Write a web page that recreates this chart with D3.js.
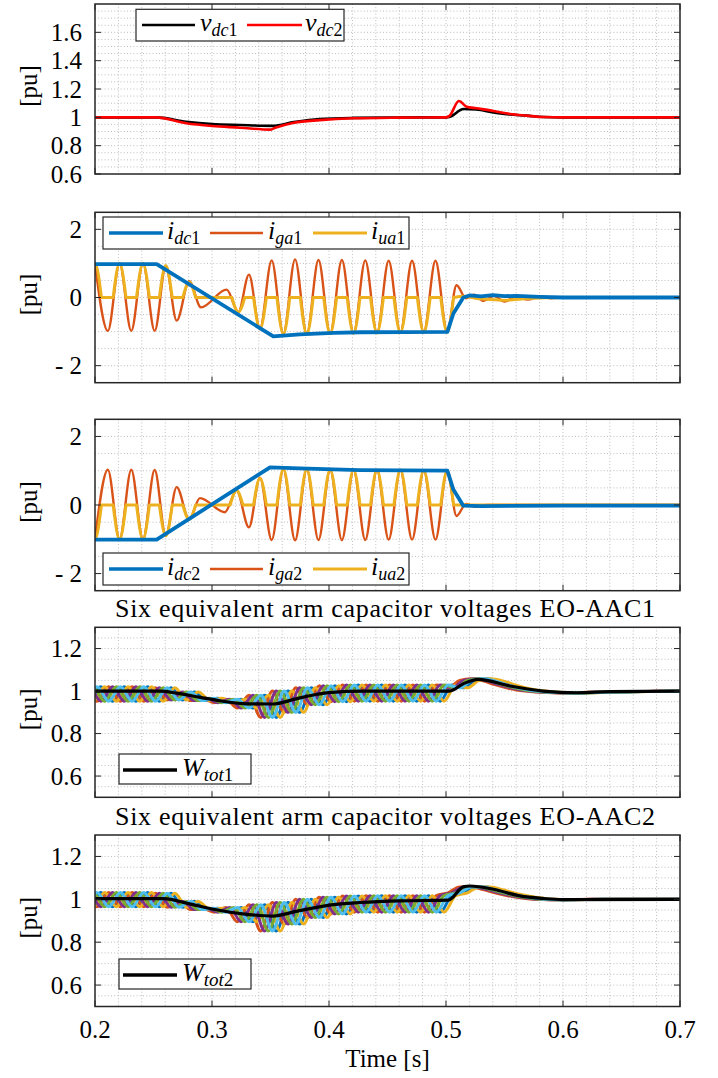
<!DOCTYPE html>
<html>
<head>
<meta charset="utf-8">
<script src="https://cdn.jsdelivr.net/npm/d3@7"></script>
<style>
  body { margin: 0; background: #fff; }
  svg { display: block; font-family: "Liberation Serif", "Times New Roman", serif; }
</style>
</head>
<body>
<svg id="chart" width="718" height="1078"></svg>
<script>
// ---- axis ticks / labels ----
const timeTicks = [0.2, 0.3, 0.4, 0.5, 0.6, 0.7];
const timeLabels = ["0.2", "0.3", "0.4", "0.5", "0.6", "0.7"];
const vTicks = [0.6, 0.8, 1, 1.2, 1.4, 1.6];
const vLabels = ["0.6", "0.8", "1", "1.2", "1.4", "1.6"];
const iTicks = [-2, 0, 2];
const iLabels = ["- 2", "0", "2"];
const wTicks = [0.6, 0.8, 1, 1.2];
const wLabels = ["0.6", "0.8", "1", "1.2"];

// ---- panel 1: dc voltages [t, pu] ----
const vdc1 = [[0.2,1.0],[0.252,1.0],[0.278,0.969],[0.3,0.953],[0.324,0.946],[0.352,0.94],[0.37,0.966],
  [0.392,0.988],[0.421,0.996],[0.46,0.999],[0.5,1.0],[0.5035,1.005],[0.515,1.059],[0.526,1.055],
  [0.5405,1.035],[0.5547,1.02],[0.569,1.012],[0.583,1.002],[0.6,1.0],[0.7,1.0]];
const vdc2 = [[0.2,1.0],[0.252,1.0],[0.278,0.958],[0.3,0.939],[0.324,0.927],[0.3496,0.913],[0.354,0.926],
  [0.37,0.962],[0.392,0.98],[0.421,0.993],[0.46,0.998],[0.5,1.0],[0.503,1.01],[0.511,1.115],[0.5176,1.075],
  [0.526,1.064],[0.5405,1.045],[0.5547,1.024],[0.569,1.012],[0.583,1.002],[0.6,1.0],[0.7,1.0]];

// ---- panel 2: converter 1 currents ----
const idc1 = [[0.2,0.98],[0.2527,0.98],[0.3524,-1.14],[0.375,-1.08],[0.404,-1.04],[0.4265,-1.02],
  [0.5012,-1.01],[0.5063,-0.47],[0.5148,0.0],[0.52,0.06],[0.53,0.03],[0.54,0.07],[0.55,0.04],
  [0.56,0.05],[0.58,0.02],[0.6,0.0],[0.7,0.0]];
const iga1 = [[0.2,1.0],[0.211,-0.98],[0.221,1.0],[0.231,-0.98],[0.241,1.0],[0.251,-0.98],[0.2605,0.92],
  [0.2698,-0.68],[0.2805,0.48],[0.2906,-0.29],[0.3125,0.23],[0.3225,-0.43],[0.3316,0.67],[0.341,-0.92],
  [0.351,1.09],[0.361,-1.07],[0.371,1.12],[0.381,-1.07],[0.391,1.1],[0.401,-1.06],[0.411,1.1],[0.421,-1.05],
  [0.431,1.09],[0.441,-1.04],[0.451,1.08],[0.461,-1.03],[0.471,1.08],[0.481,-1.02],[0.491,1.08],[0.501,-1.01],
  [0.509,0.36],[0.517,-0.02],[0.524,0.08],[0.532,-0.1],[0.541,0.05],[0.55,-0.12],[0.56,0.03],[0.57,-0.06],
  [0.58,0.03],[0.59,-0.02],[0.6,0],[0.7,0]];
// arm current: conducting half-cycle lobes [peak time, peak value], then the settled tail
const iua1Lobes = [[0.2,1.0],[0.221,1.0],[0.241,1.0],[0.2605,0.94],[0.2805,0.45],[0.3225,-0.43],[0.341,-0.92],
  [0.361,-1.07],[0.381,-1.07],[0.401,-1.06],[0.421,-1.05],[0.441,-1.04],[0.461,-1.03],[0.481,-1.02],[0.501,-1.01]];
const iua1Tail = [[0.5065,0],[0.515,0.04],[0.525,-0.02],[0.535,-0.05],[0.55,-0.08],[0.57,-0.03],[0.6,0],[0.7,0]];

// ---- panel 3: converter 2 currents ----
const idc2 = [[0.2,-1.01],[0.2527,-1.01],[0.3496,1.1],[0.375,1.07],[0.404,1.04],[0.4265,1.02],
  [0.5012,1.0],[0.5063,0.45],[0.5148,-0.02],[0.53,-0.03],[0.6,-0.02],[0.7,-0.02]];
const iga2 = [[0.2,-1.0],[0.211,1.03],[0.221,-1.0],[0.231,1.03],[0.241,-1.0],[0.251,1.02],[0.2605,-0.9],
  [0.2698,0.52],[0.2805,-0.42],[0.2897,0.2],[0.311,-0.21],[0.321,0.42],[0.3316,-0.65],[0.341,0.8],
  [0.351,-1.02],[0.361,1.04],[0.371,-1.03],[0.381,1.04],[0.391,-1.02],[0.401,1.03],[0.411,-1.02],[0.421,1.03],
  [0.431,-1.02],[0.441,1.02],[0.451,-1.01],[0.461,1.02],[0.471,-1.01],[0.481,1.01],[0.491,-1.01],[0.501,1.0],
  [0.509,-0.32],[0.517,0.03],[0.525,-0.05],[0.535,0.0],[0.6,0],[0.7,0]];
const iua2Lobes = [[0.2,-1.0],[0.221,-1.0],[0.241,-1.0],[0.2605,-0.9],[0.2805,-0.42],[0.321,0.42],[0.341,0.78],
  [0.361,1.04],[0.381,1.04],[0.401,1.03],[0.421,1.03],[0.441,1.02],[0.461,1.02],[0.481,1.01],[0.501,1.0]];
const iua2Tail = [[0.5065,0],[0.7,0]];
const lobeHalf = 0.0055; // half width of a conduction lobe [s]

// ---- panels 4/5: arm capacitor voltages, band extremes every 10 ms ----
const capT = [0.18,0.19,0.20,0.21,0.22,0.23,0.24,0.25,0.26,0.27,0.28,0.29,0.30,0.31,0.32,0.33,0.34,0.35,
  0.36,0.37,0.38,0.39,0.40,0.41,0.42,0.43,0.44,0.45,0.46,0.47,0.48,0.49,0.50,0.51,0.52,0.53,0.54,0.55,
  0.56,0.57,0.58,0.59,0.60,0.61,0.62,0.63,0.64,0.65,0.66,0.67,0.68,0.69,0.70,0.71];
const cap1Ext = [1.02,0.952,1.02,0.952,1.02,0.952,1.02,0.952,1.015,0.958,0.995,0.955,0.966,0.945,0.962,0.92,
  0.98,0.876,1.0,0.9,1.015,0.935,1.025,0.95,1.028,0.952,1.028,0.952,1.028,0.952,1.028,0.952,1.028,1.015,
  1.05,1.058,1.048,1.03,1.015,1.004,0.998,0.994,0.992,0.991,0.992,0.994,0.995,0.996,0.997,0.998,0.998,
  0.999,0.999,0.999];
const cap2Ext = [1.032,0.965,1.032,0.965,1.032,0.965,1.032,0.965,1.028,0.963,0.99,0.952,0.958,0.94,0.962,0.895,
  0.975,0.852,0.985,0.885,1.0,0.915,1.01,0.932,1.015,0.94,1.017,0.94,1.017,0.94,1.017,0.94,1.017,1.03,
  1.058,1.058,1.045,1.03,1.018,1.008,1.002,0.999,0.998,0.999,0.999,1.0,1.0,1.0,1.0,1.0,1.0,1.0,1.0,1.0];
// phase lag of each arm (blue, orange, yellow, purple, green, light blue)
const capShift = [0.005, -0.0083, 0.0083, -0.005, -0.0017, 0.0017];
const wtot1 = [[0.2,1.0],[0.2556,1.0],[0.27,0.99],[0.29,0.97],[0.308,0.953],[0.33,0.94],[0.352,0.939],
  [0.371,0.962],[0.39,0.985],[0.4,0.993],[0.43,1.0],[0.503,1.0],[0.515,1.035],[0.5276,1.055],[0.5547,1.024],
  [0.583,1.0],[0.6117,0.992],[0.64,0.997],[0.7,1.0]];
const wtot2 = [[0.2,1.003],[0.2586,1.003],[0.28,0.98],[0.3,0.955],[0.33,0.93],[0.352,0.922],[0.373,0.945],
  [0.402,0.974],[0.4265,0.985],[0.46,0.993],[0.5019,0.996],[0.5148,1.058],[0.5205,1.062],[0.5405,1.047],
  [0.563,1.016],[0.583,1.004],[0.6,0.999],[0.7,1.0]];

const C = {blue: "#0072BD", orange: "#D95319", yellow: "#EDB120", purple: "#7E2F8E",
  green: "#77AC30", light: "#4DBEEE"};
const capColors = [C.blue, C.orange, C.yellow, C.purple, C.green, C.light];

// ---- layout ----
const svg = d3.select("#chart");
const x = d3.scaleLinear().domain([0.2, 0.7]).range([95, 680]);
const axisColor = "#262626";

const panels = [
  {top: 4, bottom: 174, domain: [0.6, 1.8], ticks: vTicks, labels: vLabels, minor: 0.05},
  {top: 212.3, bottom: 382.7, domain: [-2.5, 2.5], ticks: iTicks, labels: iLabels, minor: 0.5},
  {top: 419.3, bottom: 590.7, domain: [-2.5, 2.5], ticks: iTicks, labels: iLabels, minor: 0.5},
  {top: 627.3, bottom: 797.3, domain: [0.5, 1.3], ticks: wTicks, labels: wLabels, minor: 0.05},
  {top: 835, bottom: 1006.5, domain: [0.5, 1.3], ticks: wTicks, labels: wLabels, minor: 0.05}
];

function setupPanel(p, i) {
  const y = d3.scaleLinear().domain(p.domain).range([p.bottom, p.top]);
  const g = svg.append("g");
  svg.append("clipPath").attr("id", "clip" + i)
    .append("rect").attr("x", x(0.2)).attr("y", p.top).attr("width", x(0.7) - x(0.2)).attr("height", p.bottom - p.top);

  // dotted grid
  const grid = g.append("g").attr("stroke", "#bdbdbd").attr("stroke-width", 1).attr("stroke-dasharray", "1,2.2");
  d3.range(11, 35).forEach(k => {
    const xv = x(k * 0.02);
    grid.append("line").attr("x1", xv).attr("x2", xv).attr("y1", p.top).attr("y2", p.bottom);
  });
  const n0 = Math.round(p.domain[0] / p.minor), n1 = Math.round(p.domain[1] / p.minor);
  d3.range(n0 + 1, n1).forEach(k => {
    const yv = y(k * p.minor);
    grid.append("line").attr("x1", x(0.2)).attr("x2", x(0.7)).attr("y1", yv).attr("y2", yv);
  });

  const plot = g.append("g").attr("clip-path", `url(#clip${i})`);
  return {g, plot, y, p};
}

function finishPanel(P) {
  const {g, y, p} = P;
  g.append("rect").attr("x", x(0.2)).attr("y", p.top).attr("width", x(0.7) - x(0.2)).attr("height", p.bottom - p.top)
    .attr("fill", "none").attr("stroke", axisColor).attr("stroke-width", 1.5);
  const tk = g.append("g").attr("stroke", axisColor).attr("stroke-width", 1);
  timeTicks.forEach(t => {
    tk.append("line").attr("x1", x(t)).attr("x2", x(t)).attr("y1", p.bottom).attr("y2", p.bottom - 6);
    tk.append("line").attr("x1", x(t)).attr("x2", x(t)).attr("y1", p.top).attr("y2", p.top + 6);
  });
  p.ticks.forEach((v, k) => {
    tk.append("line").attr("x1", x(0.2)).attr("x2", x(0.2) + 6).attr("y1", y(v)).attr("y2", y(v));
    tk.append("line").attr("x1", x(0.7)).attr("x2", x(0.7) - 6).attr("y1", y(v)).attr("y2", y(v));
    g.append("text").attr("x", 82).attr("y", y(v) + 8.5).attr("text-anchor", "end")
      .attr("font-size", 25).attr("fill", "#000").text(p.labels[k]);
  });
  const cy = (p.top + p.bottom) / 2 - 3;
  g.append("text").attr("transform", `translate(37,${cy}) rotate(-90)`).attr("text-anchor", "middle")
    .attr("font-size", 25).text("[pu]");
}

function plotLine(P, data, color, width, curve) {
  P.plot.append("path").datum(data)
    .attr("fill", "none").attr("stroke", color).attr("stroke-width", width)
    .attr("stroke-linejoin", "round").attr("stroke-linecap", "round")
    .attr("d", d3.line().x(d => x(d[0])).y(d => P.y(d[1])).curve(curve));
}

// half-wave arm current: smooth lobes joined by flat zero stretches
function plotLobes(P, lobes, tail, color, width) {
  const lobeLine = d3.line().x(d => x(d[0])).y(d => P.y(d[1])).curve(d3.curveNatural);
  const flatLine = d3.line().x(d => x(d[0])).y(d => P.y(d[1]));
  const tailLine = flatLine.curve(d3.curveMonotoneX);
  let d = "";
  lobes.forEach((l, k) => {
    d += lobeLine([[l[0] - lobeHalf, 0], l, [l[0] + lobeHalf, 0]]);
    const next = k + 1 < lobes.length ? lobes[k + 1][0] - lobeHalf : tail[0][0];
    d += d3.line().x(q => x(q[0])).y(q => P.y(q[1]))([[l[0] + lobeHalf, 0], [next, 0]]);
  });
  d += tailLine(tail);
  P.plot.append("path").attr("d", d).attr("fill", "none").attr("stroke", color)
    .attr("stroke-width", width).attr("stroke-linejoin", "round").attr("stroke-linecap", "round");
}

function mathText(g, tx, ty, main, subIt, subNum, subSize) {
  const t = g.append("text").attr("x", tx).attr("y", ty).attr("font-size", 26).attr("fill", "#000");
  t.append("tspan").attr("font-style", "italic").text(main);
  t.append("tspan").attr("font-style", "italic").attr("font-size", subSize).attr("dy", 5).text(subIt);
  t.append("tspan").attr("font-size", subSize).text(subNum);
}

function legend(g, box, entries, ly) {
  g.append("rect").attr("x", box[0]).attr("y", box[1]).attr("width", box[2]).attr("height", box[3])
    .attr("fill", "#fff").attr("stroke", axisColor).attr("stroke-width", 1.2);
  entries.forEach(e => {
    g.append("line").attr("x1", e.x1).attr("x2", e.x2).attr("y1", ly).attr("y2", ly)
      .attr("stroke", e.color).attr("stroke-width", e.w);
    mathText(g, e.tx, ly + 6, e.main, e.sub, e.num, e.subSize || 18);
  });
}

const P = panels.map(setupPanel);

// panel 1
plotLine(P[0], vdc1, "#000", 2.6, d3.curveMonotoneX);
plotLine(P[0], vdc2, "#ff0000", 2.6, d3.curveMonotoneX);
finishPanel(P[0]);
legend(P[0].g, [136, 9.3, 208, 31.7], [
  {x1: 142, x2: 195, color: "#000", w: 2.6, tx: 200, main: "v", sub: "dc", num: "1"},
  {x1: 247, x2: 302, color: "#ff0000", w: 2.6, tx: 305, main: "v", sub: "dc", num: "2"}
], 25);

// panel 2
plotLine(P[1], iga1, C.orange, 2.4, d3.curveMonotoneX);
plotLobes(P[1], iua1Lobes, iua1Tail, C.yellow, 3);
plotLine(P[1], idc1, C.blue, 3.8, d3.curveLinear);
finishPanel(P[1]);
legend(P[1].g, [103, 217, 306, 32], [
  {x1: 109, x2: 163, color: C.blue, w: 3.5, tx: 167, main: "i", sub: "dc", num: "1"},
  {x1: 210, x2: 263, color: C.orange, w: 2.5, tx: 268, main: "i", sub: "ga", num: "1"},
  {x1: 313, x2: 367, color: C.yellow, w: 3, tx: 371, main: "i", sub: "ua", num: "1"}
], 233);

// panel 3
plotLine(P[2], iga2, C.orange, 2.4, d3.curveMonotoneX);
plotLobes(P[2], iua2Lobes, iua2Tail, C.yellow, 3);
plotLine(P[2], idc2, C.blue, 3.8, d3.curveLinear);
finishPanel(P[2]);
legend(P[2].g, [103, 553, 306, 32], [
  {x1: 109, x2: 163, color: C.blue, w: 3.5, tx: 167, main: "i", sub: "dc", num: "2"},
  {x1: 210, x2: 263, color: C.orange, w: 2.5, tx: 268, main: "i", sub: "ga", num: "2"},
  {x1: 313, x2: 367, color: C.yellow, w: 3, tx: 371, main: "i", sub: "ua", num: "2"}
], 569);

// panels 4 and 5
[[P[3], cap1Ext, wtot1, "1", 754], [P[4], cap2Ext, wtot2, "2", 959]].forEach(([Q, ext, wt, n, by]) => {
  capColors.forEach((c, k) => {
    plotLine(Q, capT.map((t, j) => [t + capShift[k], ext[j]]), c, 3, d3.curveMonotoneX);
  });
  plotLine(Q, wt, "#000", 3.2, d3.curveMonotoneX);
  finishPanel(Q);
  legend(Q.g, [119, by, 132, 30], [
    {x1: 123, x2: 177, color: "#000", w: 3.5, tx: 182, main: "W", sub: "tot", num: n, subSize: 19}
  ], by + 16);
});

// titles
svg.append("text").attr("x", 385).attr("y", 616.5).attr("text-anchor", "middle").attr("font-size", 26)
  .attr("textLength", 540).attr("lengthAdjust", "spacing").text("Six equivalent arm capacitor voltages EO-AAC1");
svg.append("text").attr("x", 385).attr("y", 825).attr("text-anchor", "middle").attr("font-size", 26)
  .attr("textLength", 540).attr("lengthAdjust", "spacing").text("Six equivalent arm capacitor voltages EO-AAC2");

// time axis labels
timeTicks.forEach((t, k) => {
  svg.append("text").attr("x", x(t)).attr("y", 1038).attr("text-anchor", "middle").attr("font-size", 25)
    .text(timeLabels[k]);
});
svg.append("text").attr("x", 387.5).attr("y", 1067).attr("text-anchor", "middle").attr("font-size", 25)
  .text("Time [s]");
</script>
</body>
</html>
